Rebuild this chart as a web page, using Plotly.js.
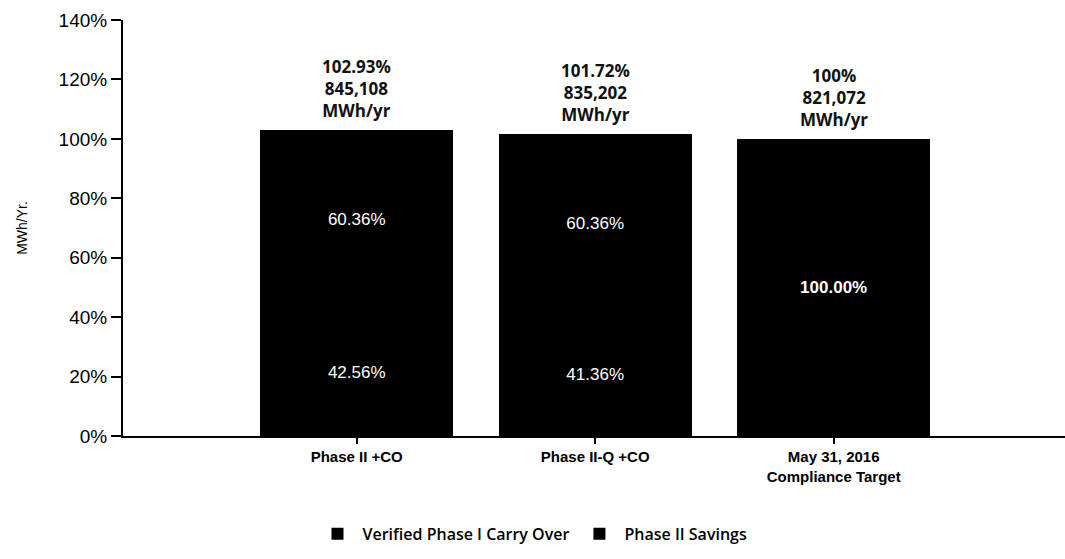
<!DOCTYPE html>
<html>
<head>
<meta charset="utf-8">
<script src="https://cdn.plot.ly/plotly-3.0.1.min.js"></script>
<style>html,body{margin:0;padding:0;background:#fff;}#chart{width:1065px;height:559px;}</style>
</head>
<body>
<div id="chart"></div>
<script>
var categories = ["Phase II +CO", "Phase II-Q +CO", "May 31, 2016<br>Compliance Target"];
var carryOver = [42.56, 41.36, 0];
var phase2Savings = [60.36, 60.36, 100];
var carryOverLabels = ["42.56%", "41.36%", ""];
var savingsLabels = ["60.36%", "60.36%", "<b>100.00%</b>"];
var totalPct = ["102.93%", "101.72%", "100%"];
var totalMWh = ["845,108", "835,202", "821,072"];
var yTicks = [0, 20, 40, 60, 80, 100, 120, 140];
var yTickText = ["0%", "20%", "40%", "60%", "80%", "100%", "120%", "140%"];

var insideFont = {family: "Liberation Sans Narrow, Liberation Sans, Arial", size: 17, color: "#ffffff"};

var traces = [
  {
    type: "bar", name: "Verified Phase I Carry Over",
    x: categories, y: carryOver, text: carryOverLabels,
    textposition: "inside", insidetextanchor: "middle", textangle: 0,
    textfont: insideFont, marker: {color: "#000000", line: {width: 0}},
    hoverinfo: "skip"
  },
  {
    type: "bar", name: "Phase II Savings",
    x: categories, y: phase2Savings, text: savingsLabels,
    textposition: "inside", insidetextanchor: "middle", textangle: 0,
    textfont: insideFont, marker: {color: "#000000", line: {width: 0}},
    hoverinfo: "skip"
  }
];

var annotations = categories.map(function (c, i) {
  return {
    x: c, y: carryOver[i] + phase2Savings[i], xref: "x", yref: "y",
    yanchor: "bottom", yshift: 6, showarrow: false,
    text: "<b>" + totalPct[i] + "<br>" + totalMWh[i] + "<br>MWh/yr</b>",
    font: {family: "Open Sans, Lato, sans-serif", size: 17, color: "#111"},
    align: "center"
  };
});

var layout = {
  width: 1065, height: 559,
  margin: {l: 123, r: 0, t: 20, b: 123},
  paper_bgcolor: "#ffffff", plot_bgcolor: "#ffffff",
  barmode: "stack", bargap: 0.19,
  showlegend: true,
  legend: {
    orientation: "h", x: 0.5, xanchor: "center", xref: "container",
    y: 0.045, yanchor: "middle", yref: "container",
    font: {family: "Open Sans, sans-serif", size: 16, color: "#000", weight: 600},
    itemwidth: 40, traceorder: "normal"
  },
  xaxis: {
    type: "category", range: [-0.98, 2.97],
    showline: true, linecolor: "#000", linewidth: 2,
    ticks: "outside", ticklen: 6, tickwidth: 2, tickcolor: "#000",
    showgrid: false, zeroline: false,
    tickfont: {family: "Liberation Sans, Arial", size: 15, color: "#000", weight: "bold"}
  },
  yaxis: {
    range: [0, 140], tickmode: "array", tickvals: yTicks, ticktext: yTickText,
    showline: true, linecolor: "#000", linewidth: 2,
    ticks: "outside", ticklen: 10, tickwidth: 2, tickcolor: "#000",
    showgrid: false, zeroline: false,
    tickfont: {family: "Liberation Sans, Arial", size: 19, color: "#000"},
    title: {text: "MWh/Yr.", font: {family: "Liberation Sans, Arial", size: 14, color: "#000"}, standoff: 28}
  },
  annotations: annotations
};

Plotly.newPlot("chart", traces, layout, {staticPlot: true, displayModeBar: false});
</script>
</body>
</html>
